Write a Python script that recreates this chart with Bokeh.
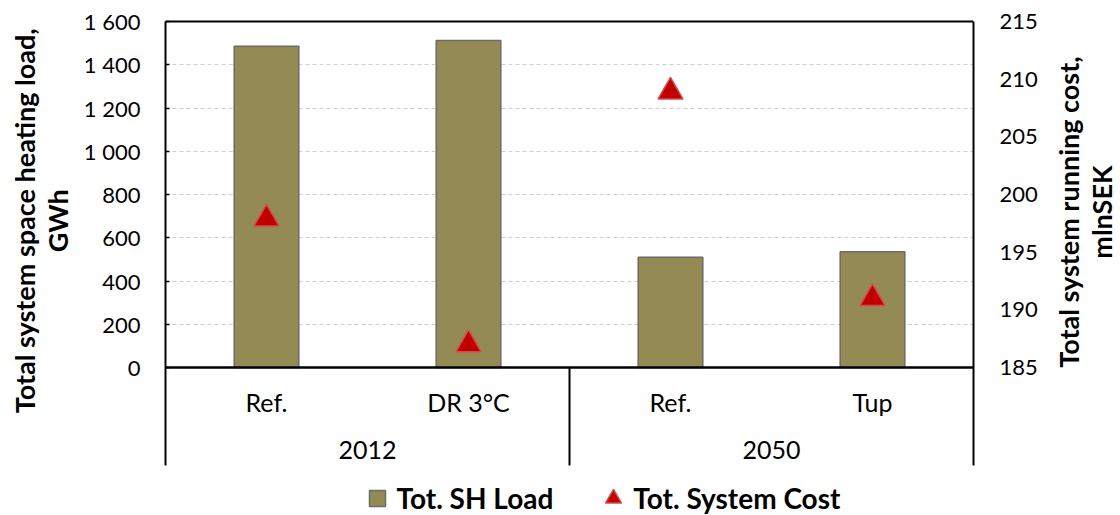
import math
from bokeh.plotting import figure
from bokeh.layouts import row
from bokeh.models import (FactorRange, Range1d, LinearAxis, FixedTicker, CustomJSTickFormatter,
                          Span, Legend, LegendItem)
from bokeh.core.properties import value
from bokeh.embed import file_html
from bokeh.resources import INLINE

# ---------------- data ----------------
years = ["2012", "2012", "2050", "2050"]
scenarios = ["Ref.", "DR 3°C", "Ref.", "Tup"]
sh_load = [1486, 1512, 510, 535]             # GWh (left axis)
system_cost = [197.9, 187.0, 208.9, 191.0]   # mlnSEK (right axis)
load_ticks = [0, 200, 400, 600, 800, 1000, 1200, 1400, 1600]
cost_ticks = [185, 190, 195, 200, 205, 210, 215]
left_title = ["Total system space heating load,", "GWh"]
right_title = ["Total system running cost,", "mlnSEK"]
legend_labels = ["Tot. SH Load", "Tot. System Cost"]

# ---------------- layout (screen px) ----------------
W, H = 1120, 515
SIDE_L, SIDE_R = 80, 80                         # widths of the title strips
W_MAIN = W - SIDE_L - SIDE_R
FR_L, FR_R, FR_T, FR_B = 164, 975, 19, 515      # frame edges on screen
Y_TOP, Y_ZERO = 21, 367                          # screen y of top tick and of zero
STRIP_B = 465                                    # bottom of category strip
lpx = (Y_ZERO - Y_TOP) / (load_ticks[-1] - load_ticks[0])
rpx = (Y_ZERO - Y_TOP) / (cost_ticks[-1] - cost_ticks[0])

def lval(sy):   # screen y -> left-axis value
    return load_ticks[0] + (Y_ZERO - sy) / lpx

def rval(sy):   # screen y -> right-axis value
    return cost_ticks[0] + (Y_ZERO - sy) / rpx

factors = list(zip(years, scenarios))

FONT = "Lato"
BAR_FILL = "#948A54"
BAR_LINE = "#6b6b6b"
TRI_FILL = "#C00000"
TRI_LINE = "#d84a4a"

p = figure(width=W_MAIN, height=H, output_backend="svg", toolbar_location=None,
           x_range=FactorRange(*factors, factor_padding=0, subgroup_padding=0,
                               group_padding=0, range_padding=0),
           y_range=Range1d(lval(FR_B), lval(FR_T)),
           x_axis_location=None,
           min_border_left=FR_L - SIDE_L, min_border_right=(W - SIDE_R) - FR_R,
           min_border_top=FR_T, min_border_bottom=H - FR_B)
p.outline_line_color = None
p.background_fill_color = "white"
p.border_fill_color = "white"
p.extra_y_ranges = {"cost": Range1d(rval(FR_B), rval(FR_T))}

# grid
p.xgrid.visible = False
p.ygrid.ticker = FixedTicker(ticks=load_ticks[1:-1])
p.ygrid.grid_line_color = "#cfcfcf"
p.ygrid.grid_line_dash = "4 3"
p.ygrid.grid_line_width = 1

# left axis
la = p.yaxis[0]
la.ticker = FixedTicker(ticks=load_ticks)
la.formatter = CustomJSTickFormatter(code="""
    if (tick >= 1000) { return Math.floor(tick/1000) + ' ' + String(tick % 1000).padStart(3, '0'); }
    return String(tick);
""")
la.bounds = (lval(STRIP_B), load_ticks[-1])
la.axis_line_color = "black"
la.axis_line_width = 2
la.major_tick_in = 4
la.major_tick_out = 0
la.minor_tick_line_color = None
la.major_tick_line_color = "black"
la.major_tick_line_width = 1.5
la.major_label_standoff = 25
la.major_label_text_font = FONT
la.major_label_text_font_size = "22px"
la.major_label_text_color = "black"

# right axis
ra = LinearAxis(y_range_name="cost", ticker=FixedTicker(ticks=cost_ticks))
ra.bounds = (rval(STRIP_B), cost_ticks[-1])
ra.axis_line_color = "black"
ra.axis_line_width = 2
ra.major_tick_in = 0
ra.major_tick_out = 0
ra.minor_tick_line_color = None
ra.major_label_standoff = 26
ra.major_label_text_font = FONT
ra.major_label_text_font_size = "22px"
ra.major_label_text_color = "black"
p.add_layout(ra, "right")

# frame top line and category axis line
p.add_layout(Span(location=load_ticks[-1], dimension="width", line_color="black", line_width=2))
p.add_layout(Span(location=load_ticks[0], dimension="width", line_color="black", line_width=2.5))

# group separator in the category strip
p.segment(x0=[(years[1], scenarios[1], 0.5)], x1=[(years[1], scenarios[1], 0.5)],
          y0=[load_ticks[0]], y1=[lval(STRIP_B)], line_color="black", line_width=2)

# bars
bars = p.vbar(x=factors, top=sh_load, width=0.32, bottom=0,
              fill_color=BAR_FILL, line_color=BAR_LINE, line_width=1.5)

# cost markers
tris = p.scatter(x=factors, y=system_cost, y_range_name="cost", marker="triangle", size=25,
                 fill_color=TRI_FILL, line_color=TRI_LINE, line_width=1.5)

# category labels
p.text(x=factors, y=lval(401), text=scenarios, text_font=value(FONT), text_font_size="25px",
       text_align="center", text_baseline="middle", text_color="black")
uyears = sorted(set(years))
p.text(x=uyears, y=lval(449), text=uyears, text_font=value(FONT), text_font_size="25px",
       text_align="center", text_baseline="middle", text_color="black")

# legend-only square (zero size in the plot; legend draws its own glyph size)
r_leg1 = p.scatter(x=factors, y=sh_load, marker="square", size=0,
                   fill_color=BAR_FILL, line_color=BAR_LINE, line_width=1.5)
legend = Legend(items=[LegendItem(label=legend_labels[0], renderers=[r_leg1]),
                       LegendItem(label=legend_labels[1], renderers=[tris])],
                orientation="horizontal", location=(355.5 - FR_L, FR_B - 518),
                glyph_width=40, glyph_height=40, label_standoff=-13, spacing=40,
                padding=0, margin=0, border_line_color=None, background_fill_alpha=0,
                label_text_font=FONT, label_text_font_style="bold",
                label_text_font_size="28px", label_text_color="black")
p.add_layout(legend)


# ---------------- title strips ----------------
def title_strip(width, lines, xs, sy):
    f = figure(width=width, height=H, output_backend="svg", toolbar_location=None,
               x_range=Range1d(0, width), y_range=Range1d(H, 0),
               x_axis_location=None, y_axis_location=None,
               min_border=0, min_border_left=0, min_border_right=0,
               min_border_top=0, min_border_bottom=0)
    f.outline_line_color = None
    f.grid.visible = False
    f.background_fill_color = "white"
    f.border_fill_color = "white"
    f.text(x=xs, y=[sy] * len(lines), text=lines, angle=math.pi / 2,
           text_font=value(FONT), text_font_style="bold", text_font_size="27px",
           text_align="center", text_baseline="middle", text_color="black")
    return f

left_fig = title_strip(SIDE_L, left_title, [24, 57], 209)
right_fig = title_strip(SIDE_R, right_title, [1068 - (W - SIDE_R), 1101 - (W - SIDE_R)], 200)

layout = row(left_fig, p, right_fig, spacing=0)
open("out.html", "w").write(file_html(layout, INLINE))
